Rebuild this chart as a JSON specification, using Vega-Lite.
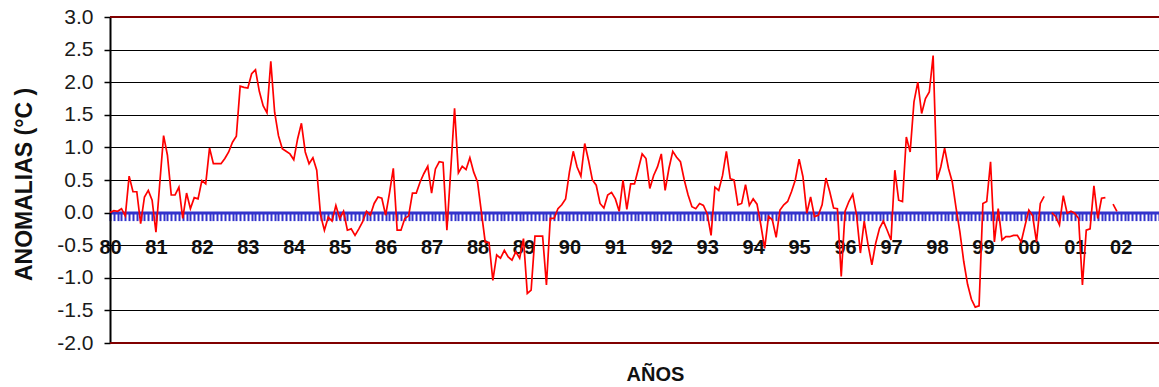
{
"$schema": "https://vega.github.io/schema/vega-lite/v6.json",
"width": 1049, "height": 326,
"autosize": {"type": "none"},
"padding": {"left": 110, "top": 17, "right": 0, "bottom": 44},
"background": "white",
"config": {"view": {"stroke": null}, "font": "Liberation Sans"},
"data": {"values": [
{"mes":"1980-01","anomalia":0.0},{"mes":"1980-02","anomalia":0.03},{"mes":"1980-03","anomalia":0.02},{"mes":"1980-04","anomalia":0.06},{"mes":"1980-05","anomalia":-0.05},{"mes":"1980-06","anomalia":0.56},{"mes":"1980-07","anomalia":0.32},{"mes":"1980-08","anomalia":0.32},{"mes":"1980-09","anomalia":-0.17},{"mes":"1980-10","anomalia":0.24},{"mes":"1980-11","anomalia":0.34},{"mes":"1980-12","anomalia":0.19},
{"mes":"1981-01","anomalia":-0.3},{"mes":"1981-02","anomalia":0.45},{"mes":"1981-03","anomalia":1.18},{"mes":"1981-04","anomalia":0.88},{"mes":"1981-05","anomalia":0.27},{"mes":"1981-06","anomalia":0.27},{"mes":"1981-07","anomalia":0.39},{"mes":"1981-08","anomalia":-0.09},{"mes":"1981-09","anomalia":0.3},{"mes":"1981-10","anomalia":0.06},{"mes":"1981-11","anomalia":0.23},{"mes":"1981-12","anomalia":0.21},
{"mes":"1982-01","anomalia":0.49},{"mes":"1982-02","anomalia":0.44},{"mes":"1982-03","anomalia":0.99},{"mes":"1982-04","anomalia":0.75},{"mes":"1982-05","anomalia":0.75},{"mes":"1982-06","anomalia":0.75},{"mes":"1982-07","anomalia":0.83},{"mes":"1982-08","anomalia":0.93},{"mes":"1982-09","anomalia":1.08},{"mes":"1982-10","anomalia":1.17},{"mes":"1982-11","anomalia":1.94},{"mes":"1982-12","anomalia":1.92},
{"mes":"1983-01","anomalia":1.91},{"mes":"1983-02","anomalia":2.13},{"mes":"1983-03","anomalia":2.19},{"mes":"1983-04","anomalia":1.86},{"mes":"1983-05","anomalia":1.64},{"mes":"1983-06","anomalia":1.53},{"mes":"1983-07","anomalia":2.32},{"mes":"1983-08","anomalia":1.54},{"mes":"1983-09","anomalia":1.18},{"mes":"1983-10","anomalia":0.98},{"mes":"1983-11","anomalia":0.94},{"mes":"1983-12","anomalia":0.9},
{"mes":"1984-01","anomalia":0.81},{"mes":"1984-02","anomalia":1.13},{"mes":"1984-03","anomalia":1.37},{"mes":"1984-04","anomalia":0.93},{"mes":"1984-05","anomalia":0.75},{"mes":"1984-06","anomalia":0.84},{"mes":"1984-07","anomalia":0.65},{"mes":"1984-08","anomalia":-0.04},{"mes":"1984-09","anomalia":-0.27},{"mes":"1984-10","anomalia":-0.07},{"mes":"1984-11","anomalia":-0.13},{"mes":"1984-12","anomalia":0.11},
{"mes":"1985-01","anomalia":-0.09},{"mes":"1985-02","anomalia":0.02},{"mes":"1985-03","anomalia":-0.27},{"mes":"1985-04","anomalia":-0.25},{"mes":"1985-05","anomalia":-0.35},{"mes":"1985-06","anomalia":-0.25},{"mes":"1985-07","anomalia":-0.14},{"mes":"1985-08","anomalia":0.02},{"mes":"1985-09","anomalia":-0.04},{"mes":"1985-10","anomalia":0.14},{"mes":"1985-11","anomalia":0.24},{"mes":"1985-12","anomalia":0.22},
{"mes":"1986-01","anomalia":-0.04},{"mes":"1986-02","anomalia":0.3},{"mes":"1986-03","anomalia":0.68},{"mes":"1986-04","anomalia":-0.27},{"mes":"1986-05","anomalia":-0.27},{"mes":"1986-06","anomalia":-0.09},{"mes":"1986-07","anomalia":-0.05},{"mes":"1986-08","anomalia":0.3},{"mes":"1986-09","anomalia":0.3},{"mes":"1986-10","anomalia":0.47},{"mes":"1986-11","anomalia":0.6},{"mes":"1986-12","anomalia":0.71},
{"mes":"1987-01","anomalia":0.3},{"mes":"1987-02","anomalia":0.67},{"mes":"1987-03","anomalia":0.78},{"mes":"1987-04","anomalia":0.77},{"mes":"1987-05","anomalia":-0.27},{"mes":"1987-06","anomalia":0.65},{"mes":"1987-07","anomalia":1.6},{"mes":"1987-08","anomalia":0.61},{"mes":"1987-09","anomalia":0.71},{"mes":"1987-10","anomalia":0.66},{"mes":"1987-11","anomalia":0.84},{"mes":"1987-12","anomalia":0.62},
{"mes":"1988-01","anomalia":0.47},{"mes":"1988-02","anomalia":0.01},{"mes":"1988-03","anomalia":-0.45},{"mes":"1988-04","anomalia":-0.46},{"mes":"1988-05","anomalia":-1.04},{"mes":"1988-06","anomalia":-0.65},{"mes":"1988-07","anomalia":-0.7},{"mes":"1988-08","anomalia":-0.58},{"mes":"1988-09","anomalia":-0.68},{"mes":"1988-10","anomalia":-0.73},{"mes":"1988-11","anomalia":-0.6},{"mes":"1988-12","anomalia":-0.7},
{"mes":"1989-01","anomalia":-0.4},{"mes":"1989-02","anomalia":-1.24},{"mes":"1989-03","anomalia":-1.19},{"mes":"1989-04","anomalia":-0.36},{"mes":"1989-05","anomalia":-0.36},{"mes":"1989-06","anomalia":-0.36},{"mes":"1989-07","anomalia":-1.11},{"mes":"1989-08","anomalia":-0.09},{"mes":"1989-09","anomalia":-0.09},{"mes":"1989-10","anomalia":0.06},{"mes":"1989-11","anomalia":0.12},{"mes":"1989-12","anomalia":0.21},
{"mes":"1990-01","anomalia":0.62},{"mes":"1990-02","anomalia":0.94},{"mes":"1990-03","anomalia":0.7},{"mes":"1990-04","anomalia":0.56},{"mes":"1990-05","anomalia":1.06},{"mes":"1990-06","anomalia":0.8},{"mes":"1990-07","anomalia":0.5},{"mes":"1990-08","anomalia":0.42},{"mes":"1990-09","anomalia":0.14},{"mes":"1990-10","anomalia":0.07},{"mes":"1990-11","anomalia":0.27},{"mes":"1990-12","anomalia":0.31},
{"mes":"1991-01","anomalia":0.21},{"mes":"1991-02","anomalia":0.02},{"mes":"1991-03","anomalia":0.5},{"mes":"1991-04","anomalia":0.05},{"mes":"1991-05","anomalia":0.44},{"mes":"1991-06","anomalia":0.44},{"mes":"1991-07","anomalia":0.67},{"mes":"1991-08","anomalia":0.9},{"mes":"1991-09","anomalia":0.83},{"mes":"1991-10","anomalia":0.37},{"mes":"1991-11","anomalia":0.57},{"mes":"1991-12","anomalia":0.7},
{"mes":"1992-01","anomalia":0.9},{"mes":"1992-02","anomalia":0.34},{"mes":"1992-03","anomalia":0.68},{"mes":"1992-04","anomalia":0.94},{"mes":"1992-05","anomalia":0.85},{"mes":"1992-06","anomalia":0.78},{"mes":"1992-07","anomalia":0.5},{"mes":"1992-08","anomalia":0.27},{"mes":"1992-09","anomalia":0.09},{"mes":"1992-10","anomalia":0.06},{"mes":"1992-11","anomalia":0.14},{"mes":"1992-12","anomalia":0.11},
{"mes":"1993-01","anomalia":-0.02},{"mes":"1993-02","anomalia":-0.35},{"mes":"1993-03","anomalia":0.39},{"mes":"1993-04","anomalia":0.34},{"mes":"1993-05","anomalia":0.57},{"mes":"1993-06","anomalia":0.94},{"mes":"1993-07","anomalia":0.52},{"mes":"1993-08","anomalia":0.5},{"mes":"1993-09","anomalia":0.12},{"mes":"1993-10","anomalia":0.14},{"mes":"1993-11","anomalia":0.43},{"mes":"1993-12","anomalia":0.11},
{"mes":"1994-01","anomalia":0.21},{"mes":"1994-02","anomalia":0.13},{"mes":"1994-03","anomalia":-0.19},{"mes":"1994-04","anomalia":-0.55},{"mes":"1994-05","anomalia":-0.06},{"mes":"1994-06","anomalia":-0.11},{"mes":"1994-07","anomalia":-0.38},{"mes":"1994-08","anomalia":0.04},{"mes":"1994-09","anomalia":0.12},{"mes":"1994-10","anomalia":0.17},{"mes":"1994-11","anomalia":0.32},{"mes":"1994-12","anomalia":0.5},
{"mes":"1995-01","anomalia":0.82},{"mes":"1995-02","anomalia":0.55},{"mes":"1995-03","anomalia":-0.01},{"mes":"1995-04","anomalia":0.24},{"mes":"1995-05","anomalia":-0.06},{"mes":"1995-06","anomalia":-0.04},{"mes":"1995-07","anomalia":0.12},{"mes":"1995-08","anomalia":0.53},{"mes":"1995-09","anomalia":0.32},{"mes":"1995-10","anomalia":0.07},{"mes":"1995-11","anomalia":0.06},{"mes":"1995-12","anomalia":-0.98},
{"mes":"1996-01","anomalia":0.02},{"mes":"1996-02","anomalia":0.17},{"mes":"1996-03","anomalia":0.28},{"mes":"1996-04","anomalia":-0.04},{"mes":"1996-05","anomalia":-0.62},{"mes":"1996-06","anomalia":-0.13},{"mes":"1996-07","anomalia":-0.49},{"mes":"1996-08","anomalia":-0.8},{"mes":"1996-09","anomalia":-0.47},{"mes":"1996-10","anomalia":-0.24},{"mes":"1996-11","anomalia":-0.13},{"mes":"1996-12","anomalia":-0.27},
{"mes":"1997-01","anomalia":-0.42},{"mes":"1997-02","anomalia":0.65},{"mes":"1997-03","anomalia":0.19},{"mes":"1997-04","anomalia":0.17},{"mes":"1997-05","anomalia":1.16},{"mes":"1997-06","anomalia":0.93},{"mes":"1997-07","anomalia":1.7},{"mes":"1997-08","anomalia":2.0},{"mes":"1997-09","anomalia":1.52},{"mes":"1997-10","anomalia":1.75},{"mes":"1997-11","anomalia":1.85},{"mes":"1997-12","anomalia":2.41},
{"mes":"1998-01","anomalia":0.5},{"mes":"1998-02","anomalia":0.7},{"mes":"1998-03","anomalia":0.99},{"mes":"1998-04","anomalia":0.68},{"mes":"1998-05","anomalia":0.47},{"mes":"1998-06","anomalia":0.07},{"mes":"1998-07","anomalia":-0.3},{"mes":"1998-08","anomalia":-0.75},{"mes":"1998-09","anomalia":-1.1},{"mes":"1998-10","anomalia":-1.33},{"mes":"1998-11","anomalia":-1.45},{"mes":"1998-12","anomalia":-1.43},
{"mes":"1999-01","anomalia":0.14},{"mes":"1999-02","anomalia":0.17},{"mes":"1999-03","anomalia":0.78},{"mes":"1999-04","anomalia":-0.45},{"mes":"1999-05","anomalia":0.06},{"mes":"1999-06","anomalia":-0.42},{"mes":"1999-07","anomalia":-0.37},{"mes":"1999-08","anomalia":-0.37},{"mes":"1999-09","anomalia":-0.35},{"mes":"1999-10","anomalia":-0.35},{"mes":"1999-11","anomalia":-0.45},{"mes":"1999-12","anomalia":-0.2},
{"mes":"2000-01","anomalia":0.04},{"mes":"2000-02","anomalia":-0.05},{"mes":"2000-03","anomalia":-0.45},{"mes":"2000-04","anomalia":0.14},{"mes":"2000-05","anomalia":0.25},{"mes":"2000-06","anomalia":null},{"mes":"2000-07","anomalia":0.0},{"mes":"2000-08","anomalia":-0.06},{"mes":"2000-09","anomalia":-0.19},{"mes":"2000-10","anomalia":0.26},{"mes":"2000-11","anomalia":-0.01},{"mes":"2000-12","anomalia":0.02},
{"mes":"2001-01","anomalia":-0.01},{"mes":"2001-02","anomalia":-0.09},{"mes":"2001-03","anomalia":-1.11},{"mes":"2001-04","anomalia":-0.27},{"mes":"2001-05","anomalia":-0.25},{"mes":"2001-06","anomalia":0.41},{"mes":"2001-07","anomalia":-0.09},{"mes":"2001-08","anomalia":0.22},{"mes":"2001-09","anomalia":0.23},{"mes":"2001-10","anomalia":null},{"mes":"2001-11","anomalia":0.13},{"mes":"2001-12","anomalia":0.02},
{"mes":"2002-01","anomalia":null},{"mes":"2002-02","anomalia":null},{"mes":"2002-03","anomalia":null},{"mes":"2002-04","anomalia":null},{"mes":"2002-05","anomalia":null},{"mes":"2002-06","anomalia":null},{"mes":"2002-07","anomalia":null},{"mes":"2002-08","anomalia":null},{"mes":"2002-09","anomalia":null},{"mes":"2002-10","anomalia":null},{"mes":"2002-11","anomalia":null}
]},
"layer": [
{
"mark": {"type": "line", "color": "#FF0000", "strokeWidth": 1.7, "invalid": "break-paths-show-domains"},
"encoding": {
"x": {"field": "mes", "type": "ordinal", "scale": {"type": "point", "padding": 0},
"axis": {"orient": "bottom", "offset": -130.4, "domainColor": "#3333CC", "domainWidth": 3, "tickColor": "#3333CC", "tickWidth": 2, "tickSize": 8,
"labelExpr": "substring(datum.value, 5, 7) == '01' ? substring(datum.value, 2, 4) : ''",
"labelAngle": 0, "labelFont": "Liberation Sans", "labelFontSize": 20, "labelFontWeight": "bold", "labelColor": "#111111", "labelPadding": 17, "labelOverlap": false, "labelBaseline": "top",
"grid": false,
"title": "AÑOS", "titleFont": "Liberation Sans", "titleFontSize": 20, "titleFontWeight": "bold", "titleColor": "#111111", "titleX": 545, "titleY": 162, "titleBaseline": "middle", "titleAlign": "center"}},
"y": {"field": "anomalia", "type": "quantitative", "scale": {"domain": [-2, 3], "nice": false, "zero": false},
"axis": {"values": [-2, -1.5, -1, -0.5, 0, 0.5, 1, 1.5, 2, 2.5, 3], "labelOverlap": false,
"labelExpr": "(datum.value < 0 ? '-' : '') + format(abs(datum.value), '.1f')",
"labelFont": "Liberation Sans", "labelFontSize": 21, "labelColor": "#1a1a1a", "labelPadding": 11,
"domainColor": "#000000", "domainWidth": 2, "tickColor": "#000000", "tickWidth": 1.5, "tickSize": 6,
"grid": true, "gridColor": "#000000", "gridWidth": 1, "gridOpacity": 1,
"title": "ANOMALIAS (°C )", "titleFont": "Liberation Sans", "titleFontSize": 23, "titleFontWeight": "bold", "titleColor": "#111111", "titleX": -86, "titleY": 167, "titleBaseline": "middle", "titleAlign": "center", "titleAngle": 270}}
}
},
{
"data": {"values": [{"borde": 3}, {"borde": -2}]},
"mark": {"type": "rule", "color": "#800000", "strokeWidth": 2},
"encoding": {"y": {"field": "borde", "type": "quantitative",
"axis": {"values": [-2, -1.5, -1, -0.5, 0, 0.5, 1, 1.5, 2, 2.5, 3], "labelOverlap": false,
"labelExpr": "(datum.value < 0 ? '-' : '') + format(abs(datum.value), '.1f')",
"labelFont": "Liberation Sans", "labelFontSize": 21, "labelColor": "#1a1a1a", "labelPadding": 11,
"domainColor": "#000000", "domainWidth": 2, "tickColor": "#000000", "tickWidth": 1.5, "tickSize": 6,
"grid": true, "gridColor": "#000000", "gridWidth": 1, "gridOpacity": 1,
"title": "ANOMALIAS (°C )", "titleFont": "Liberation Sans", "titleFontSize": 23, "titleFontWeight": "bold", "titleColor": "#111111", "titleX": -86, "titleY": 167, "titleBaseline": "middle", "titleAlign": "center", "titleAngle": 270}}}
}
]
}
